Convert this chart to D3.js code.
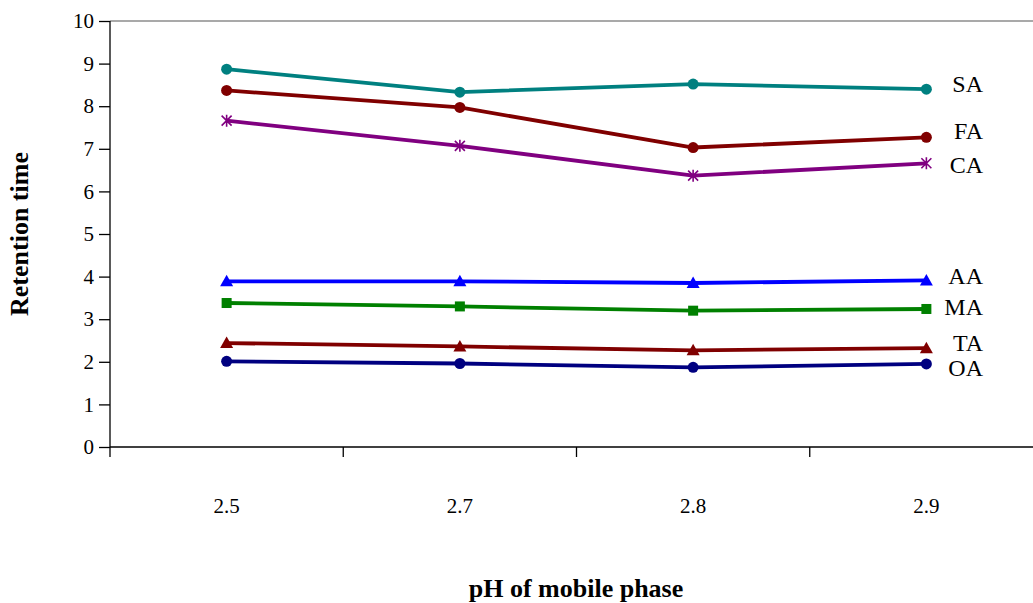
<!DOCTYPE html>
<html>
<head>
<meta charset="utf-8">
<script src="https://cdn.jsdelivr.net/npm/d3@7"></script>
<style>
  html, body { margin: 0; padding: 0; background: #fff; }
  svg { display: block; }
  svg text { font-family: "Liberation Serif", "Times New Roman", serif; fill: #000; }
</style>
</head>
<body>
<svg id="chart" width="1033" height="603"></svg>
<script>
// pH values of the mobile phase (categories on the x axis)
const phLevels = ["2.5", "2.7", "2.8", "2.9"];
const yTicks = [0, 1, 2, 3, 4, 5, 6, 7, 8, 9, 10];

// Retention times of each acid at every pH
const seriesNames = ["SA", "FA", "CA", "AA", "MA", "TA", "OA"];
const SA = [8.87, 8.33, 8.52, 8.40];
const FA = [8.37, 7.97, 7.03, 7.27];
const CA = [7.66, 7.07, 6.37, 6.66];
const AA = [3.89, 3.89, 3.85, 3.91];
const MA = [3.38, 3.30, 3.20, 3.24];
const TA = [2.44, 2.36, 2.27, 2.32];
const OA = [2.01, 1.96, 1.87, 1.95];

const styles = {
  SA: { color: "#008080", marker: "circle" },
  FA: { color: "#800000", marker: "circle" },
  CA: { color: "#800080", marker: "asterisk" },
  AA: { color: "#0000FF", marker: "triangle" },
  MA: { color: "#008000", marker: "square" },
  TA: { color: "#800000", marker: "triangle" },
  OA: { color: "#000080", marker: "circle" }
};
const seriesData = { SA, FA, CA, AA, MA, TA, OA };

const svg = d3.select("#chart");
const plotLeft = 110, plotRight = 1043, plotTop = 21, plotBottom = 447;

const x = d3.scaleBand().domain(phLevels).range([plotLeft, plotRight]).padding(0);
const y = d3.scaleLinear().domain([0, 10]).range([plotBottom, plotTop]);
const cx = d => x(d) + x.bandwidth() / 2;

// plot area top border
svg.append("line")
  .attr("x1", plotLeft).attr("x2", 1033)
  .attr("y1", y(10)).attr("y2", y(10))
  .attr("stroke", "#8c8c8c").attr("stroke-width", 1.3);

// y axis
const yAxis = svg.append("g")
  .attr("transform", `translate(${plotLeft},0)`)
  .call(d3.axisLeft(y).tickValues(yTicks).tickSize(11).tickPadding(5).tickFormat(d3.format("d")))
  .attr("font-family", null).attr("font-size", null);
yAxis.select(".domain").remove();
yAxis.selectAll(".tick line").attr("stroke", "#000").attr("stroke-width", 1.3);
yAxis.selectAll(".tick text").style("font-size", "21px");
svg.append("line")
  .attr("x1", plotLeft).attr("x2", plotLeft)
  .attr("y1", plotTop).attr("y2", plotBottom + 10)
  .attr("stroke", "#000").attr("stroke-width", 1.3);

// x axis: labels centred in each band, ticks at band boundaries
const xAxis = svg.append("g")
  .attr("transform", `translate(0,${plotBottom})`)
  .call(d3.axisBottom(x).tickSize(0).tickPadding(51))
  .attr("font-family", null).attr("font-size", null);
xAxis.select(".domain").remove();
xAxis.selectAll(".tick text").style("font-size", "21px");
svg.append("line")
  .attr("x1", plotLeft).attr("x2", 1033)
  .attr("y1", plotBottom).attr("y2", plotBottom)
  .attr("stroke", "#000").attr("stroke-width", 1.3);
svg.selectAll(".xbound")
  .data(phLevels.slice(1))
  .join("line")
  .attr("class", "xbound")
  .attr("x1", d => x(d)).attr("x2", d => x(d))
  .attr("y1", plotBottom).attr("y2", plotBottom + 10)
  .attr("stroke", "#000").attr("stroke-width", 1.3);

// series lines and markers
const line = d3.line().x((d, i) => cx(phLevels[i])).y(d => y(d));

seriesNames.forEach(name => {
  const vals = seriesData[name];
  const st = styles[name];
  const g = svg.append("g").attr("class", "series-" + name);
  g.append("path")
    .datum(vals)
    .attr("d", line)
    .attr("fill", "none")
    .attr("stroke", st.color)
    .attr("stroke-width", 3.8)
    .attr("stroke-linejoin", "round");

  const pts = g.selectAll("g.pt")
    .data(vals)
    .join("g")
    .attr("class", "pt")
    .attr("transform", (d, i) => `translate(${cx(phLevels[i])},${y(d)})`);

  if (st.marker === "circle") {
    pts.append("circle").attr("r", 5.5).attr("fill", st.color);
  } else if (st.marker === "square") {
    pts.append("rect").attr("x", -5).attr("y", -5).attr("width", 10).attr("height", 10).attr("fill", st.color);
  } else if (st.marker === "triangle") {
    pts.append("path").attr("d", "M0,-6.5L6.5,5L-6.5,5Z").attr("fill", st.color);
  } else if (st.marker === "asterisk") {
    pts.append("path")
      .attr("d", "M-5,-5L5,5M-5,5L5,-5M0,-6L0,6")
      .attr("stroke", st.color).attr("stroke-width", 1.6).attr("fill", "none");
  }
});

// series labels at the right end
const labelY = { SA: 84, FA: 131, CA: 165, AA: 276, MA: 307, TA: 343, OA: 368 };
svg.selectAll(".slabel")
  .data(seriesNames)
  .join("text")
  .attr("class", "slabel")
  .attr("x", 983)
  .attr("y", d => labelY[d])
  .attr("dy", "0.35em")
  .attr("text-anchor", "end")
  .style("font-size", "24px")
  .text(d => d);

// axis titles
svg.append("text")
  .attr("transform", "translate(28,234) rotate(-90)")
  .attr("text-anchor", "middle")
  .style("font-size", "26px").style("font-weight", "bold")
  .text("Retention time");

svg.append("text")
  .attr("x", 576).attr("y", 597)
  .attr("text-anchor", "middle")
  .style("font-size", "26px").style("font-weight", "bold")
  .text("pH of mobile phase");
</script>
</body>
</html>
